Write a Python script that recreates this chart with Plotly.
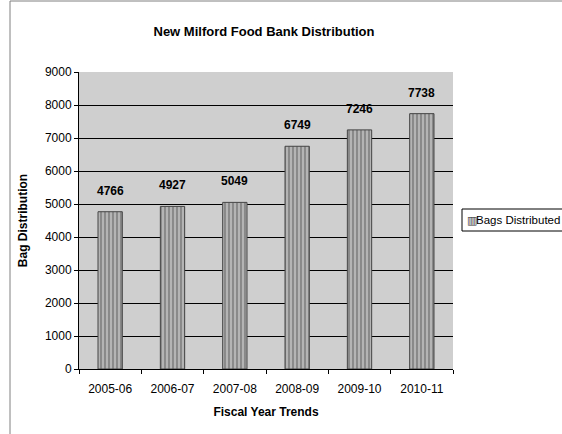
import plotly.graph_objects as go

# Fiscal-year bag distribution totals
fiscal_years = ["2005-06", "2006-07", "2007-08", "2008-09", "2009-10", "2010-11"]
bags_distributed = [4766, 4927, 5049, 6749, 7246, 7738]
y_ticks = [0, 1000, 2000, 3000, 4000, 5000, 6000, 7000, 8000, 9000]
series_name = "Bags Distributed"

FONT = "Liberation Sans, Arial, sans-serif"

# Plot-area geometry in pixels (used to place the frame and legend box)
W, H = 562, 434
L, R, T, B = 79, 109, 72, 65
PW, PH = W - L - R, H - T - B


def px_x(x):
    return (x - L) / PW


def px_y(y):
    return (H - B - y) / PH


fig = go.Figure()
fig.add_trace(go.Bar(
    x=fiscal_years,
    y=bags_distributed,
    name=series_name,
    width=0.39,
    marker=dict(
        color="#9a9a9a",
        line=dict(color="#444444", width=1),
        pattern=dict(shape="|", fgcolor="#3c3c3c", bgcolor="#b4b4b4",
                     size=4, solidity=0.35),
    ),
    showlegend=False,
))

# Bold value labels floating above each bar
for cat, val in zip(fiscal_years, bags_distributed):
    fig.add_annotation(x=cat, y=val, text=f"<b>{val}</b>", showarrow=False,
                       yanchor="bottom", yshift=12,
                       font=dict(family=FONT, size=12, color="#000000"))

fig.update_layout(
    width=W, height=H,
    margin=dict(l=L, r=R, t=T, b=B, autoexpand=False),
    paper_bgcolor="#ffffff",
    plot_bgcolor="#cfcfcf",
    title=dict(text="<b>New Milford Food Bank Distribution</b>",
               x=264 / W, xanchor="center", y=1 - 31 / H, yanchor="middle",
               font=dict(family=FONT, size=13, color="#000000")),
    showlegend=False,
    font=dict(family=FONT, size=12, color="#000000"),
)

fig.update_xaxes(
    type="category",
    title=dict(text="<b>Fiscal Year Trends</b>", font=dict(size=12), standoff=12),
    showline=True, linecolor="#000000", linewidth=1,
    ticks="outside", ticklen=4, tickcolor="#000000", tickson="boundaries",
    ticklabelstandoff=9,
    showgrid=False, tickfont=dict(size=12),
)
fig.update_yaxes(
    title=dict(text="<b>Bag Distribution</b>", font=dict(size=12), standoff=14),
    range=[0, 9000], tickvals=y_ticks,
    showline=True, linecolor="#000000", linewidth=1,
    ticks="outside", ticklen=4, tickcolor="#000000",
    showgrid=True, gridcolor="#000000", gridwidth=1,
    zeroline=False, tickfont=dict(size=12),
)

# Chart-area frame along the top and left edges
fig.add_shape(type="line", xref="paper", yref="paper",
              x0=px_x(10), x1=px_x(600), y0=px_y(1), y1=px_y(1),
              line=dict(color="#808080", width=1))
fig.add_shape(type="line", xref="paper", yref="paper",
              x0=px_x(10), x1=px_x(10), y0=px_y(1), y1=px_y(440),
              line=dict(color="#808080", width=1))

# Legend box with a striped swatch and the series name
fig.add_shape(type="rect", xref="paper", yref="paper",
              x0=px_x(462), x1=px_x(600), y0=px_y(231), y1=px_y(209),
              line=dict(color="#000000", width=1), fillcolor="#ffffff")
fig.add_annotation(xref="paper", yref="paper", x=px_x(465), y=px_y(220),
                   xanchor="left", yanchor="middle", showarrow=False,
                   text="▥", font=dict(family="DejaVu Sans", size=11, color="#333333"))
fig.add_annotation(xref="paper", yref="paper", x=px_x(474), y=px_y(220),
                   xanchor="left", yanchor="middle", showarrow=False,
                   text=series_name, font=dict(family=FONT, size=11.5, color="#000000"))

fig.write_html("out.html")
